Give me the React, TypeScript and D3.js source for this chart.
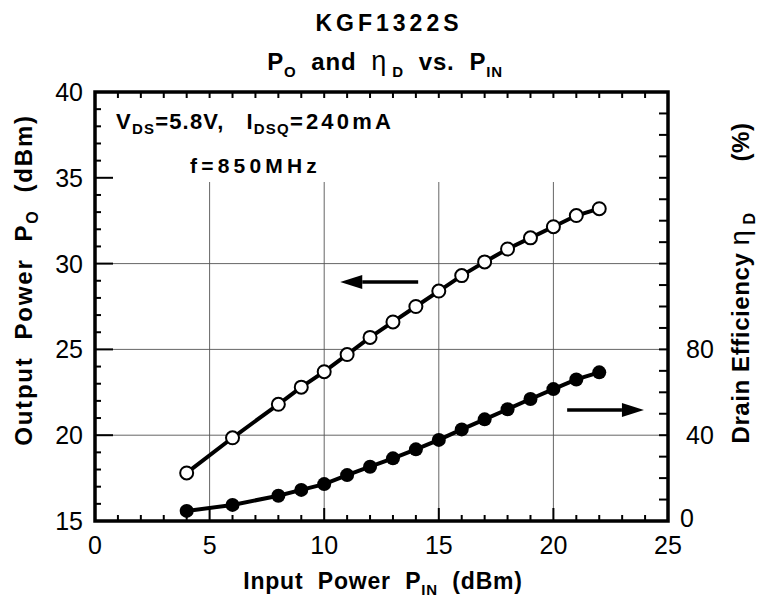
import React from "react";
import * as d3 from "d3";

const pin = [4, 6, 8, 9, 10, 11, 12, 13, 14, 15, 16, 17, 18, 19, 20, 21, 22];
const pout = [17.8, 19.85, 21.8, 22.8, 23.7, 24.7, 25.7, 26.6, 27.5, 28.4, 29.3, 30.1, 30.85, 31.5, 32.15, 32.8, 33.2];
const eff = [4.7, 7.5, 11.8, 14.5, 17.2, 21.4, 25.3, 29.2, 33.4, 37.8, 42.7, 47.4, 52.1, 56.9, 61.5, 66.0, 69.3];
const xTicks = [0, 5, 10, 15, 20, 25];
const yLeftTicks = [15, 20, 25, 30, 35, 40];
const yRightTicks = [0, 40, 80];
const xGrid = [5, 10, 15, 20];
const yGrid = [20, 25, 30];

const W = 763;
const H = 602;
const L = 95, R = 668, T = 92, B = 521;
const FONT = "'Liberation Sans', Arial, Helvetica, sans-serif";
const PRE: React.CSSProperties = { whiteSpace: "pre" };

export default function App() {
  const x = d3.scaleLinear().domain([0, 25]).range([L, R]);
  const yl = d3.scaleLinear().domain([15, 40]).range([B, T]);
  const yr = d3.scaleLinear().domain([0, 200]).range([B, T]);

  const lineP = d3.line<number>().x((_, i) => x(pin[i])).y((d) => yl(d));
  const lineE = d3.line<number>().x((_, i) => x(pin[i])).y((d) => yr(d));

  const minorX = d3.range(0, 26, 1);
  const minorYL = d3.range(15, 41, 1);
  const minorYR = d3.range(0, 201, 10);

  const gridTop = 182;

  const arrow = (x1: number, x2: number, y: number) => {
    const dir = x2 > x1 ? 1 : -1;
    const hl = 22, hw = 7;
    const base = x2 - dir * hl;
    return (
      <g>
        <line x1={x1} y1={y} x2={base} y2={y} stroke="#000" strokeWidth={3.5} />
        <path d={`M${x2},${y} L${base},${y - hw} L${base},${y + hw} Z`} fill="#000" />
      </g>
    );
  };

  return (
    <svg width={W} height={H} style={{ position: "absolute", left: 0, top: 0, background: "#fff" }} fontFamily={FONT}>
      <rect x={0} y={0} width={W} height={H} fill="#fff" />
      {/* Title */}
      <text x={389} y={31} textAnchor="middle" fontSize={23} fontWeight="bold" letterSpacing={4} style={PRE}>KGF1322S</text>
      <text x={385} y={70} textAnchor="middle" fontSize={24} fontWeight="bold" letterSpacing={0.8} style={PRE}>
        <tspan>P</tspan>
        <tspan fontSize={15} dy={7}>O</tspan>
        <tspan dy={-7}>{"  and  "}</tspan>
        <tspan fontWeight="normal" fontSize={27}>η</tspan>
        <tspan fontSize={15} dy={7}>{" D"}</tspan>
        <tspan dy={-7}>{"  vs.  P"}</tspan>
        <tspan fontSize={15} dy={7}>IN</tspan>
      </text>

      {/* Gridlines */}
      {xGrid.map((v) => (
        <line key={"gx" + v} x1={x(v)} x2={x(v)} y1={gridTop} y2={B} stroke="#555" strokeWidth={0.9} />
      ))}
      {yGrid.map((v) => (
        <line key={"gy" + v} x1={L} x2={R} y1={yl(v)} y2={yl(v)} stroke="#555" strokeWidth={0.9} />
      ))}

      {/* Ticks */}
      {minorYL.map((v) => (
        <line key={"tl" + v} x1={L} x2={L + (v % 5 === 0 ? 18 : 6)} y1={yl(v)} y2={yl(v)} stroke="#000" strokeWidth={2} />
      ))}
      {minorX.map((v) => (
        <line key={"tb" + v} x1={x(v)} x2={x(v)} y1={B} y2={B - (v % 5 === 0 ? 13 : 6)} stroke="#000" strokeWidth={2} />
      ))}
      {minorX.map((v) => (
        <line key={"tt" + v} x1={x(v)} x2={x(v)} y1={T} y2={T + 6} stroke="#000" strokeWidth={2} />
      ))}
      {minorYR.map((v) => (
        <line key={"tr" + v} x1={R} x2={R - 9} y1={yr(v)} y2={yr(v)} stroke="#000" strokeWidth={2} />
      ))}

      {/* Frame */}
      <rect x={L} y={T} width={R - L} height={B - T} fill="none" stroke="#000" strokeWidth={3.5} />

      {/* Tick labels */}
      {yLeftTicks.map((v) => (
        <text key={"yl" + v} x={L - 12} y={yl(v) + 9} textAnchor="end" fontSize={25}>{v}</text>
      ))}
      {xTicks.map((v) => (
        <text key={"xl" + v} x={x(v)} y={B + 33} textAnchor="middle" fontSize={25}>{v}</text>
      ))}
      {yRightTicks.map((v) => (
        <text key={"yr" + v} x={R + (v === 0 ? 12 : 18)} y={yr(v) + (v === 0 ? 6 : 9)} textAnchor="start" fontSize={25}>{v}</text>
      ))}

      {/* Annotations */}
      <text x={116} y={129} fontSize={22} fontWeight="bold" letterSpacing={1.2} style={PRE}>
        <tspan>V</tspan>
        <tspan fontSize={15} dy={5}>DS</tspan>
        <tspan dy={-5}>{"=5.8V,   I"}</tspan>
        <tspan fontSize={15} dy={5}>DSQ</tspan>
        <tspan dy={-5} letterSpacing={3.2}>=240mA</tspan>
      </text>
      <text x={190} y={173} fontSize={21} fontWeight="bold" letterSpacing={4.2}>f=850MHz</text>

      {/* Arrows */}
      {arrow(x(14.1), x(10.7), yl(28.93))}
      {arrow(x(20.6), x(23.95), yr(51.7))}

      {/* Series */}
      <path d={lineP(pout) || ""} fill="none" stroke="#000" strokeWidth={4} />
      <path d={lineE(eff) || ""} fill="none" stroke="#000" strokeWidth={4} />
      {pout.map((v, i) => (
        <circle key={"p" + i} cx={x(pin[i])} cy={yl(v)} r={6.5} fill="#fff" stroke="#000" strokeWidth={2} />
      ))}
      {eff.map((v, i) => (
        <circle key={"e" + i} cx={x(pin[i])} cy={yr(v)} r={7} fill="#000" />
      ))}

      {/* Axis titles */}
      <text x={383} y={589} textAnchor="middle" fontSize={23} fontWeight="bold" letterSpacing={0.8} style={PRE}>
        <tspan>Input  Power  P</tspan>
        <tspan fontSize={15} dy={6}>IN</tspan>
        <tspan dy={-6}>{"  (dBm)"}</tspan>
      </text>
      <text transform="translate(32,280) rotate(-90)" textAnchor="middle" fontSize={24} fontWeight="bold" letterSpacing={1.8} style={PRE}>
        <tspan>Output  Power  P</tspan>
        <tspan fontSize={16} dy={6}>O</tspan>
        <tspan dy={-6}>{"  (dBm)"}</tspan>
      </text>
      <text transform="translate(749,283) rotate(-90)" textAnchor="middle" fontSize={24} fontWeight="bold" letterSpacing={0.6} style={PRE}>
        <tspan>Drain Efficiency </tspan>
        <tspan fontWeight="normal" fontSize={27}>η</tspan>
        <tspan fontSize={16} dy={6}>{" D"}</tspan>
        <tspan dy={-6}>{"       (%)"}</tspan>
      </text>
    </svg>
  );
}
